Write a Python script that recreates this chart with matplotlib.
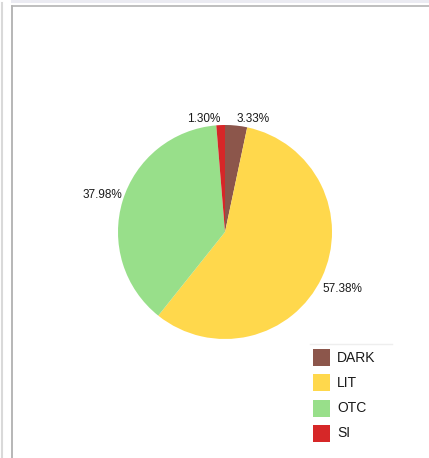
import matplotlib.pyplot as plt
from matplotlib.lines import Line2D
from matplotlib.patches import Rectangle

categories = ['DARK', 'LIT', 'OTC', 'SI']
shares = [3.33, 57.38, 37.98, 1.30]
colors = ['#8c564b', '#ffd84c', '#98df8a', '#d62728']
pct_labels = [f'{v:.2f}%' for v in shares]

plt.rcParams['font.family'] = ['Liberation Sans', 'DejaVu Sans']

W, H = 429, 458
fig = plt.figure(figsize=(W / 100, H / 100), dpi=100)
fig.patch.set_facecolor('white')

# page chrome around the chart panel
fig.add_artist(Rectangle((11 / W, 1 - 3 / H), 1, 3 / H, transform=fig.transFigure,
                         facecolor='#ebebf2', edgecolor='none'))
fig.add_artist(Line2D([2 / W, 2 / W], [0, 1 - 3 / H], transform=fig.transFigure,
                      color='#d9d9d9', lw=1.5))
fig.add_artist(Line2D([11.5 / W, 11.5 / W], [0, 1 - 5.5 / H], transform=fig.transFigure,
                      color='#aaaaaa', lw=1.2))
fig.add_artist(Line2D([11.5 / W, 1], [1 - 5.5 / H, 1 - 5.5 / H], transform=fig.transFigure,
                      color='#b4b4b4', lw=1.2))

# pie centred at (225, 232) px with radius 107 px
cx, cy, r = 225, 232, 107
ax = fig.add_axes([(cx - r) / W, (H - cy - r) / H, 2 * r / W, 2 * r / H])
wedges, texts = ax.pie(shares, labels=pct_labels, colors=colors, startangle=90,
                       counterclock=False, labeldistance=1.005,
                       wedgeprops=dict(linewidth=0),
                       textprops=dict(fontsize=8.5, color='#1a1a1a'))
for t in texts:
    x, y = t.get_position()
    t.set_ha('left' if x > 0 else 'right')
    if y > 0:
        t.set_va('bottom')
    else:
        t.set_va('top')
        t.set_position((x, y - 0.05))
    t.set_clip_on(False)
ax.set_xlim(-1, 1)
ax.set_ylim(-1, 1)
ax.set_aspect('equal')
ax.axis('off')

# legend: separator line, colour squares and names
fig.add_artist(Line2D([310 / W, 392 / W], [1 - 344 / H, 1 - 344 / H], transform=fig.transFigure,
                      color='#eeeeee', lw=1))
box, row0, step = 17, 349, 25.3
for i, (name, col) in enumerate(zip(categories, colors)):
    top = row0 + i * step
    fig.add_artist(Rectangle((313 / W, 1 - (top + box) / H), box / W, box / H,
                             transform=fig.transFigure, facecolor=col, edgecolor='none'))
    fig.text(337 / W, 1 - (top + box / 2) / H, name, fontsize=10, color='#1a1a1a',
             ha='left', va='center')

fig.savefig('out.png', dpi=100)
